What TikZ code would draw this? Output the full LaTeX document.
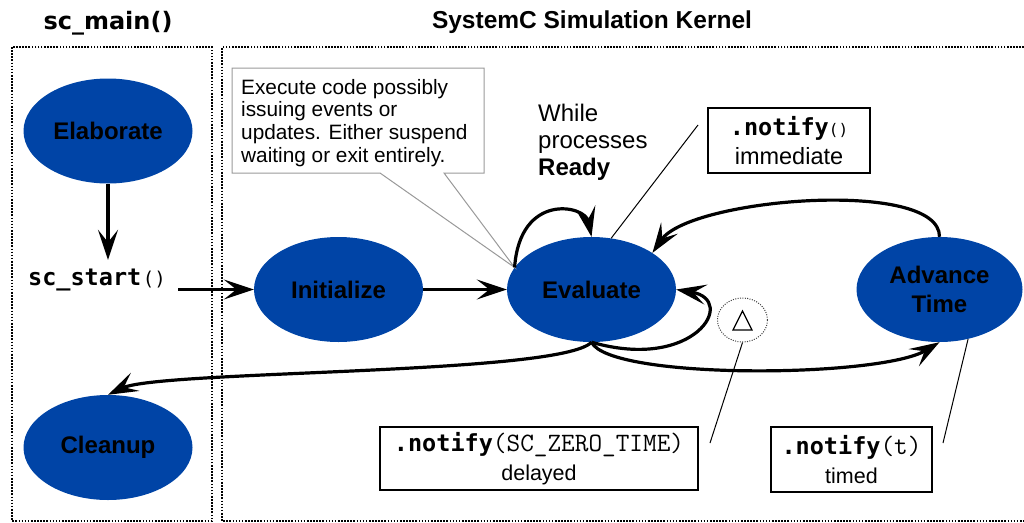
\documentclass[tikz,border=0pt]{standalone}
\usepackage{fontspec}
\setmainfont{Liberation Sans}
\newfontfamily\djsans{DejaVu Sans}
\newfontfamily\djmono{DejaVu Sans Mono}
\usetikzlibrary{arrows.meta,shapes.geometric}
\definecolor{scblue}{RGB}{0,68,166}
\newcommand\fsz[2]{\fontsize{#1pt}{#2pt}\selectfont}
\newcommand\ntf{{\djmono\bfseries\fsz{23.5}{29}.notify}}
\newcommand\ttarg[1]{{\ttfamily\fsz{26.5}{29}#1}}
\begin{document}
\begin{tikzpicture}[x=1pt,y=-1pt,
  state/.style={ellipse,fill=scblue,minimum width=169pt,minimum height=105pt,
    inner sep=0pt,font=\fsz{24}{29}\bfseries,align=center},
  arr/.style={line width=3.2pt,-{Stealth[length=30pt,width=20pt,inset=12.5pt]}},
  thin line/.style={line width=1pt},
  dotbox/.style={line width=1.6pt,dash pattern=on 1.6pt off 1.5pt},
  notebox/.style={draw,line width=1.2pt,inner sep=0pt,align=center,font=\fsz{21.5}{29}},
  title/.style={font=\fsz{24.5}{29}\bfseries}]
\useasboundingbox (0,0) rectangle (1024,522);
% frames
\draw[dotbox] (12,47) rectangle (212,521);
\draw[dotbox] (1024,47) -- (222,47) -- (222,521) -- (1024,521);
% titles
\node[title,font=\djsans\fsz{24}{29}\bfseries] (tmain) at (108,23) {sc\_main()};
\node[title] (tkern) at (592,22) {SystemC Simulation Kernel};
% states
\node[state] (elab) at (108,131) {Elaborate};
\node[inner sep=0pt] (start) at (97,280) {{\djmono\bfseries\fsz{23.5}{29}sc\_start}\,{\djmono\fsz{19}{20}()}};
\node[state] (init) at (338.5,289.5) {Initialize};
\node[state] (eval) at (591.5,289.5) {Evaluate};
\node[state,minimum width=166pt] (adv) at (939.5,289.5) {Advance\\Time};
\node[state] (clean) at (108,447.5) {Cleanup};
% callout
\node[anchor=west,align=left,inner sep=0pt,font=\fsz{20.8}{22.8}] (callout) at (241,123)
  {Execute code possibly\\issuing events or\\updates. Either suspend\\waiting or exit entirely.};
\draw[line width=1pt,black!40] (380,173) -| (232,68) -| (484,173) -- (444,173) -- (eval.164) -- cycle;
% ready text
\node[anchor=west,align=left,inner sep=0pt,font=\fsz{24}{27}] (ready) at (538,142)
  {While\\processes\\\textbf{Ready}};
% note boxes
\node[notebox,minimum width=162pt,minimum height=65pt] (imm) at (789,140.5)
  {\ntf{\djmono\fsz{16}{20}()}\\{\fsz{23.5}{29}immediate}};
\node[notebox,minimum width=318pt,minimum height=63pt] (del) at (539,458.5)
  {\ntf\ttarg{(SC\_ZERO\_TIME)}\\delayed};
\node[notebox,minimum width=161pt,minimum height=65pt] (tim) at (851.5,459.5)
  {\ntf\ttarg{(t)}\\timed};
% delta
\node[ellipse,draw,line width=1pt,black!75,dash pattern=on 1pt off 1.4pt,
  minimum width=50pt,minimum height=44pt,inner sep=0pt] (delta) at (742.5,320) {};
\draw[line width=1.2pt] (733,330) -- (752,330) -- (742.5,311) -- cycle;
% pointer lines
\coordinate (immtail) at (698,125);
\coordinate (deltail) at (710,443);
\coordinate (timtail) at (943,443);
\draw[thin line] (immtail) -- (eval.69);
\draw[thin line] (delta.south) -- (deltail);
\draw[thin line] (adv.-60) -- (timtail);
% arrows
\draw[arr] (elab.south) -- ([yshift=9pt]start.north -| elab.south);
\draw[arr] ([xshift=12pt]start.east |- init.west) -- (init.west);
\draw[arr] (init.east) -- (eval.west);
\draw[arr] (eval.164) .. controls (520,192) and (585,205) .. (eval.north);
\draw[arr] (eval.south) .. controls (695,372) and (738,300) .. (eval.east);
\draw[arr] (eval.south) .. controls (610,380) and (880,378) .. (adv.south);
\draw[arr] (adv.north) .. controls (940,178) and (690,198) .. (eval.31);
\draw[arr] (eval.south) .. controls (560,375) and (160,370) .. (clean.north);
\end{tikzpicture}
\end{document}
